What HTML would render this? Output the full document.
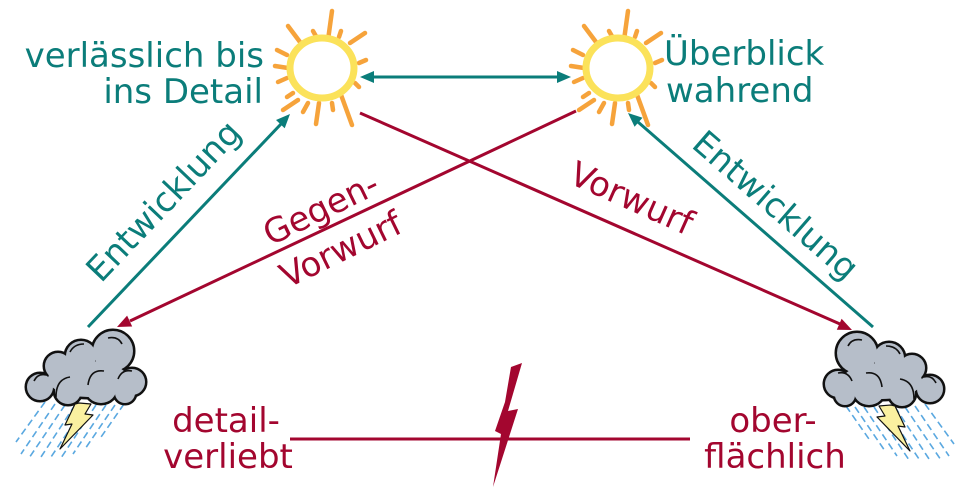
<!DOCTYPE html>
<html>
<head>
<meta charset="utf-8">
<style>
  html,body{margin:0;padding:0;background:#fff;}
  svg{display:block;}
  text{font-family:"DejaVu Sans","Liberation Sans",sans-serif;font-size:34px;}
  .t{fill:#0b7d7a;}
  .r{fill:#a3062f;}
</style>
</head>
<body>
<svg width="979" height="488" viewBox="0 0 979 488" xmlns="http://www.w3.org/2000/svg">
  <defs>
    <g id="sun">
      <g stroke="#f6a33b" stroke-width="4.5" stroke-linecap="round" fill="none">
        <line x1="328" y1="40" x2="332" y2="11"/>
        <line x1="300" y1="42" x2="288" y2="26"/>
        <line x1="350" y1="43" x2="365" y2="33"/>
        <line x1="317" y1="38" x2="313" y2="31"/>
        <line x1="339" y1="37" x2="341" y2="31"/>
        <line x1="287" y1="55" x2="277" y2="50"/>
        <line x1="288" y1="68" x2="275" y2="66"/>
        <line x1="287" y1="78" x2="278" y2="82"/>
        <line x1="298" y1="100" x2="283" y2="110"/>
        <line x1="293" y1="93" x2="287" y2="97"/>
        <line x1="308" y1="103" x2="303" y2="112"/>
        <line x1="319" y1="103" x2="316" y2="124"/>
        <line x1="340" y1="92" x2="352" y2="125"/>
        <line x1="359" y1="63" x2="366" y2="60"/>
        <line x1="332" y1="103" x2="333" y2="110"/>
        <line x1="355" y1="83" x2="359" y2="87"/>
      </g>
      <ellipse cx="322" cy="68" rx="32" ry="30" fill="#fff" stroke="#fbe25a" stroke-width="7"/>
    </g>
    <g id="cloud">
      <g stroke="#5aa8e0" stroke-width="1.6" stroke-dasharray="7 4" fill="none">
        <line x1="45" y1="402" x2="16" y2="442"/>
        <line x1="55" y1="404" x2="21" y2="454"/>
        <line x1="65" y1="405" x2="29" y2="458"/>
        <line x1="75" y1="405" x2="39" y2="460"/>
        <line x1="86" y1="405" x2="51" y2="457"/>
        <line x1="96" y1="405" x2="61" y2="458"/>
        <line x1="106" y1="405" x2="73" y2="454"/>
        <line x1="115" y1="405" x2="85" y2="449"/>
        <line x1="124" y1="404" x2="99" y2="440"/>
      </g>
      <g fill="#111" stroke="#111" stroke-width="5">
        <circle cx="113" cy="351" r="20"/>
        <circle cx="81" cy="356" r="15"/>
        <circle cx="58" cy="366" r="13"/>
        <circle cx="40" cy="387" r="13"/>
        <circle cx="68" cy="391" r="13"/>
        <circle cx="101" cy="387" r="16"/>
        <circle cx="132" cy="382" r="13"/>
        <circle cx="125" cy="393" r="10"/>
        <ellipse cx="88" cy="379" rx="40" ry="18"/>
      </g>
      <g fill="#b6bec9">
        <circle cx="113" cy="351" r="20"/>
        <circle cx="81" cy="356" r="15"/>
        <circle cx="58" cy="366" r="13"/>
        <circle cx="40" cy="387" r="13"/>
        <circle cx="68" cy="391" r="13"/>
        <circle cx="101" cy="387" r="16"/>
        <circle cx="132" cy="382" r="13"/>
        <circle cx="125" cy="393" r="10"/>
        <ellipse cx="88" cy="379" rx="40" ry="18"/>
      </g>
      <g fill="none" stroke="#111" stroke-width="1.6">
        <path d="M56 397 Q56 379 70 377"/>
        <path d="M88 385 Q90 369 104 371"/>
        <path d="M118 379 Q122 369 132 371"/>
        <path d="M70 352 Q74 344 84 344"/>
        <path d="M108 338 Q118 336 122 344"/>
        <path d="M34 381 Q38 373 46 375"/>
      </g>
      <polygon points="79,403 91,404 85,414 93,415 60,449 72,424 65,425 75,404" fill="#faf0a0" stroke="#111" stroke-width="1.2" stroke-linejoin="round"/>
    </g>
  </defs>

  <use href="#sun"/>
  <use href="#sun" transform="translate(296,0)"/>

  <use href="#cloud"/>
  <use href="#cloud" transform="translate(970,2) scale(-1,1)"/>

  <g stroke-width="3" fill="none">
    <line x1="88" y1="327" x2="281" y2="124" stroke="#0b7d7a"/>
    <line x1="873" y1="327" x2="638" y2="122" stroke="#0b7d7a"/>
    <line x1="372" y1="77" x2="559" y2="77" stroke="#0b7d7a"/>
    <line x1="360" y1="113" x2="840" y2="324" stroke="#a3062f"/>
    <line x1="576" y1="111" x2="130" y2="321" stroke="#a3062f"/>
    <line x1="290" y1="439" x2="690" y2="439" stroke="#a3062f"/>
  </g>
  <g fill="#0b7d7a">
    <polygon points="290,114 284.7,128.3 276,120"/>
    <polygon points="628,113 642.5,117.7 634.6,126.7"/>
    <polygon points="360,77 374,71 374,83"/>
    <polygon points="571,77 557,71 557,83"/>
  </g>
  <g fill="#a3062f">
    <polygon points="852,330 836.8,329.8 841.6,318.8"/>
    <polygon points="117,327 127.1,315.6 132.2,326.5"/>
    <polygon points="511,367 522,363 508,411 518,409 493,487 501,434 495,431 505,402"/>
  </g>

  <text class="t" x="264" y="67" text-anchor="end">verlässlich bis</text>
  <text class="t" x="263" y="103" text-anchor="end">ins Detail</text>
  <text class="t" x="664" y="65">Überblick</text>
  <text class="t" x="666" y="102">wahrend</text>

  <text class="t" text-anchor="middle" transform="translate(172,209) rotate(-46.5)">Entwicklung</text>
  <text class="t" text-anchor="middle" transform="translate(768,214) rotate(41)">Entwicklung</text>

  <text class="r" text-anchor="middle" transform="translate(326,219) rotate(-26)">Gegen-</text>
  <text class="r" text-anchor="middle" transform="translate(346,260) rotate(-26)">Vorwurf</text>
  <text class="r" text-anchor="middle" transform="translate(627,209) rotate(24)">Vorwurf</text>

  <text class="r" x="226" y="432" text-anchor="middle">detail-</text>
  <text class="r" x="228" y="468" text-anchor="middle">verliebt</text>
  <text class="r" x="773" y="432" text-anchor="middle">ober-</text>
  <text class="r" x="775" y="468" text-anchor="middle">flächlich</text>
</svg>
</body>
</html>
